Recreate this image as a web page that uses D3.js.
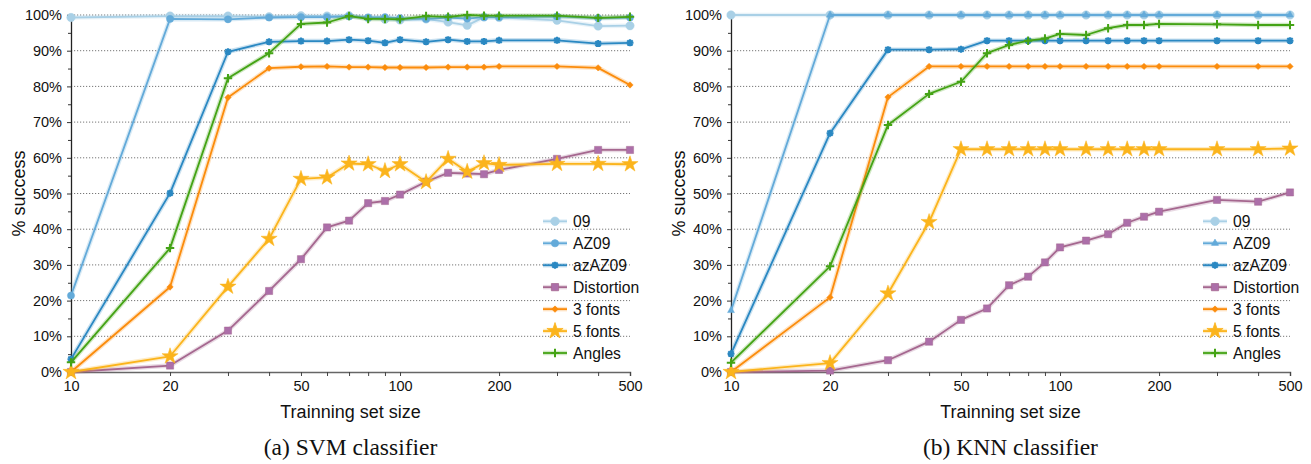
<!DOCTYPE html>
<html><head><meta charset="utf-8">
<script src="https://cdn.jsdelivr.net/npm/d3@7"></script>
<style>
body{margin:0;background:#fff;}
svg{display:block;}
</style></head>
<body>
<svg id="chart" width="1311" height="464"></svg>
<script>
// ---- data ----
const sizes = [10,20,30,40,50,60,70,80,90,100,120,140,160,180,200,300,400,500];
const seriesNames = ["09","AZ09","azAZ09","Distortion","3 fonts","5 fonts","Angles"];
const xTickLabels = [10,20,50,100,200,500];
const yTickLabels = [0,10,20,30,40,50,60,70,80,90,100];
const panelTitles = ["(a) SVM classifier","(b) KNN classifier"];

const svm09        = [99.3,99.7,99.7,99.5,99.8,99.7,99.8,99.2,98.8,98.6,98.9,98.0,97.1,99.4,99.3,98.5,96.9,97.0];
const svmAZ09      = [21.4,98.9,98.8,99.3,99.4,99.4,99.6,99.3,99.4,99.1,98.9,99.3,99.0,99.4,99.4,99.6,99.1,99.3];
const svmazAZ09    = [3.6,50.1,89.7,92.5,92.7,92.7,93.1,92.8,92.2,93.1,92.5,93.1,92.6,92.6,92.9,92.9,92.0,92.2];
const svmDistort   = [0,1.8,11.6,22.7,31.6,40.5,42.4,47.3,47.9,49.7,53.3,55.8,55.6,55.4,56.6,59.7,62.2,62.2];
const svm3fonts    = [0,23.8,76.9,85.1,85.5,85.6,85.4,85.4,85.3,85.3,85.3,85.4,85.4,85.4,85.6,85.6,85.2,80.4];
const svm5fonts    = [0,4.4,23.9,37.3,54.1,54.5,58.4,58.2,56.3,58.2,53.2,59.7,56.1,58.5,58.0,58.3,58.3,58.2];
const svmAngles    = [2.7,34.7,82.3,89.3,97.5,97.9,99.7,98.9,98.9,98.8,99.7,99.5,100,99.8,99.8,99.8,99.2,99.5];

const knn09        = [100,100,100,100,100,100,100,100,100,100,100,100,100,100,100,100,100,100];
const knnAZ09      = [17.2,100,100,100,100,100,100,100,100,100,100,100,100,100,100,100,100,100];
const knnazAZ09    = [5.1,66.9,90.3,90.3,90.4,92.8,92.8,92.8,92.8,92.8,92.8,92.8,92.8,92.8,92.8,92.8,92.8,92.8];
const knnDistort   = [0,0.4,3.3,8.5,14.6,17.8,24.3,26.7,30.7,34.9,36.8,38.6,41.8,43.5,44.9,48.2,47.7,50.3];
const knn3fonts    = [0,20.9,77.0,85.6,85.6,85.6,85.6,85.6,85.6,85.6,85.6,85.6,85.6,85.6,85.6,85.6,85.6,85.6];
const knn5fonts    = [0,2.5,22.0,42.0,62.4,62.4,62.4,62.4,62.4,62.4,62.4,62.4,62.4,62.4,62.4,62.4,62.4,62.6];
const knnAngles    = [2.6,29.6,69.2,77.9,81.3,89.3,91.6,92.8,93.4,94.7,94.4,96.3,97.2,97.2,97.5,97.4,97.2,97.2];

const svmSeries = [svm09,svmAZ09,svmazAZ09,svmDistort,svm3fonts,svm5fonts,svmAngles];
const knnSeries = [knn09,knnAZ09,knnazAZ09,knnDistort,knn3fonts,knn5fonts,knnAngles];

// ---- styles ----
const colors = ["#a9d0e6","#63aad9","#2a88c2","#a5678f","#fb8c0c","#fbb41c","#44a315"];
const markerFill = ["#a9d0e6","#63aad9","#2a88c2","#ac6fa9","#fb8c0c","#fbb41c","#44a315"];

function markerPath(kind, s){
  switch(kind){
    case "circle": return d3.symbol(d3.symbolCircle, s*s*3.14)();
    case "triangle": return d3.symbol(d3.symbolTriangle, s*s*1.6)();
    case "square": return `M${-s},${-s}H${s}V${s}H${-s}Z`;
    case "star": return d3.symbol(d3.symbolStar, s*s*3.0)();
    case "diamond": return `M0,${-s}L${s},0L0,${s}L${-s},0Z`;
    case "plus": return `M${-s},0H${s}M0,${-s}V${s}`;
    case "asterisk": { const d=s*0.75; return `M${-s},0H${s}M0,${-s}V${s}M${-d},${-d}L${d},${d}M${-d},${d}L${d},${-d}`; }
  }
}
const stroked = {plus:true, asterisk:true};

const svg = d3.select("#chart");
const FONT = "'Liberation Sans', Arial, Helvetica, sans-serif";

function drawPanel(ox, seriesData, markers, title){
  const left = ox + 71, right = ox + 630, top = 15, bottom = 372;
  const x = d3.scaleLog().domain([10,500]).range([left,right]);
  const y = d3.scaleLinear().domain([0,100]).range([bottom,top]);
  const g = svg.append("g");

  // grid
  g.append("g").selectAll("line").data(yTickLabels.filter(v=>v>0)).join("line")
    .attr("x1",left).attr("x2",right).attr("y1",d=>y(d)).attr("y2",d=>y(d))
    .attr("stroke","#777").attr("stroke-width",1).attr("stroke-dasharray","1.2,1.8");

  // y axis
  const yAxis = d3.axisLeft(y).tickValues(yTickLabels).tickFormat(d=>d+"%").tickSize(4).tickPadding(5);
  const ya = g.append("g").attr("transform",`translate(${left},0)`).call(yAxis);
  ya.select(".domain").attr("stroke","#222").attr("stroke-width",1.3);
  ya.selectAll(".tick line").attr("stroke","#333");
  ya.selectAll("text").attr("font-family",FONT).attr("font-size",14.5).attr("fill","#111");
  const yMinor = d3.axisLeft(y).tickValues(d3.range(5,100,10)).tickFormat("").tickSize(3);
  const ym = g.append("g").attr("transform",`translate(${left},0)`).call(yMinor);
  ym.select(".domain").remove();
  ym.selectAll(".tick line").attr("stroke","#333");

  // x axis
  const xAxis = d3.axisBottom(x).tickValues(xTickLabels).tickFormat(d3.format("d")).tickSize(4).tickPadding(5);
  const xa = g.append("g").attr("transform",`translate(0,${bottom})`).call(xAxis);
  xa.select(".domain").attr("stroke","#666").attr("stroke-width",1.5);
  xa.selectAll(".tick line").attr("stroke","#444");
  xa.selectAll("text").attr("font-family",FONT).attr("font-size",14.5).attr("fill","#111");
  const xMinor = d3.axisBottom(x).tickValues([30,40,60,70,80,90,300,400]).tickFormat("").tickSize(4);
  const xm = g.append("g").attr("transform",`translate(0,${bottom})`).call(xMinor);
  xm.select(".domain").remove();
  xm.selectAll(".tick line").attr("stroke","#444");

  // axis labels
  g.append("text").attr("transform",`translate(${ox+25},${(top+bottom)/2}) rotate(-90)`)
    .attr("text-anchor","middle").attr("font-family",FONT).attr("font-size",18).attr("fill","#111")
    .text("% success");
  g.append("text").attr("x",(left+right)/2).attr("y",418).attr("text-anchor","middle")
    .attr("font-family",FONT).attr("font-size",18).attr("fill","#111").text("Trainning set size");
  g.append("text").attr("x",(left+right)/2).attr("y",455).attr("text-anchor","middle")
    .attr("font-family","'Liberation Serif','Times New Roman',serif").attr("font-size",23.5).attr("fill","#111").text(title);

  // series
  const line = d3.line().x((d,i)=>x(sizes[i])).y(d=>y(d));
  seriesData.forEach((vals,k)=>{
    const sg = g.append("g");
    sg.append("path").attr("d",line(vals)).attr("fill","none").attr("stroke",colors[k])
      .attr("stroke-width",4.5).attr("stroke-opacity",0.25).attr("stroke-linejoin","round");
    sg.append("path").attr("d",line(vals)).attr("fill","none").attr("stroke",colors[k])
      .attr("stroke-width",1.8).attr("stroke-linejoin","round");
    const m = markers[k];
    sg.selectAll("path.mk").data(vals).join("path").attr("class","mk")
      .attr("transform",(d,i)=>`translate(${x(sizes[i])},${y(d)})`)
      .attr("d",markerPath(m.kind,m.size))
      .attr("fill",stroked[m.kind]?"none":markerFill[k])
      .attr("stroke",colors[k]).attr("stroke-width",stroked[m.kind]?2:0.8)
      .attr("stroke-opacity",stroked[m.kind]?1:0.6);
  });

  // legend
  const lg = g.append("g");
  seriesNames.forEach((name,k)=>{
    const ly = 221.3 + k*21.95;
    const lx0 = ox + 543, lx1 = ox + 567;
    lg.append("line").attr("x1",lx0).attr("x2",lx1).attr("y1",ly).attr("y2",ly)
      .attr("stroke",colors[k]).attr("stroke-width",4.5).attr("stroke-opacity",0.25);
    lg.append("line").attr("x1",lx0).attr("x2",lx1).attr("y1",ly).attr("y2",ly)
      .attr("stroke",colors[k]).attr("stroke-width",1.8);
    const m = markers[k];
    lg.append("path").attr("transform",`translate(${(lx0+lx1)/2},${ly})`)
      .attr("d",markerPath(m.kind,m.size))
      .attr("fill",stroked[m.kind]?"none":markerFill[k])
      .attr("stroke",colors[k]).attr("stroke-width",stroked[m.kind]?2:0.8);
    lg.append("text").attr("x",ox+573).attr("y",ly+5.5).attr("font-family",FONT)
      .attr("font-size",15.7).attr("fill","#111").text(name);
  });
}

const svmMarkers = [
  {kind:"circle",size:4.2},{kind:"circle",size:3.6},{kind:"asterisk",size:3.5},
  {kind:"square",size:3.6},{kind:"diamond",size:3.2},{kind:"star",size:5.2},{kind:"plus",size:4.2}
];
const knnMarkers = [
  {kind:"circle",size:4.2},{kind:"triangle",size:3.6},{kind:"asterisk",size:3.5},
  {kind:"square",size:3.6},{kind:"diamond",size:3.2},{kind:"star",size:5.2},{kind:"plus",size:4.2}
];

drawPanel(0, svmSeries, svmMarkers, panelTitles[0]);
drawPanel(660, knnSeries, knnMarkers, panelTitles[1]);
</script>
</body></html>
